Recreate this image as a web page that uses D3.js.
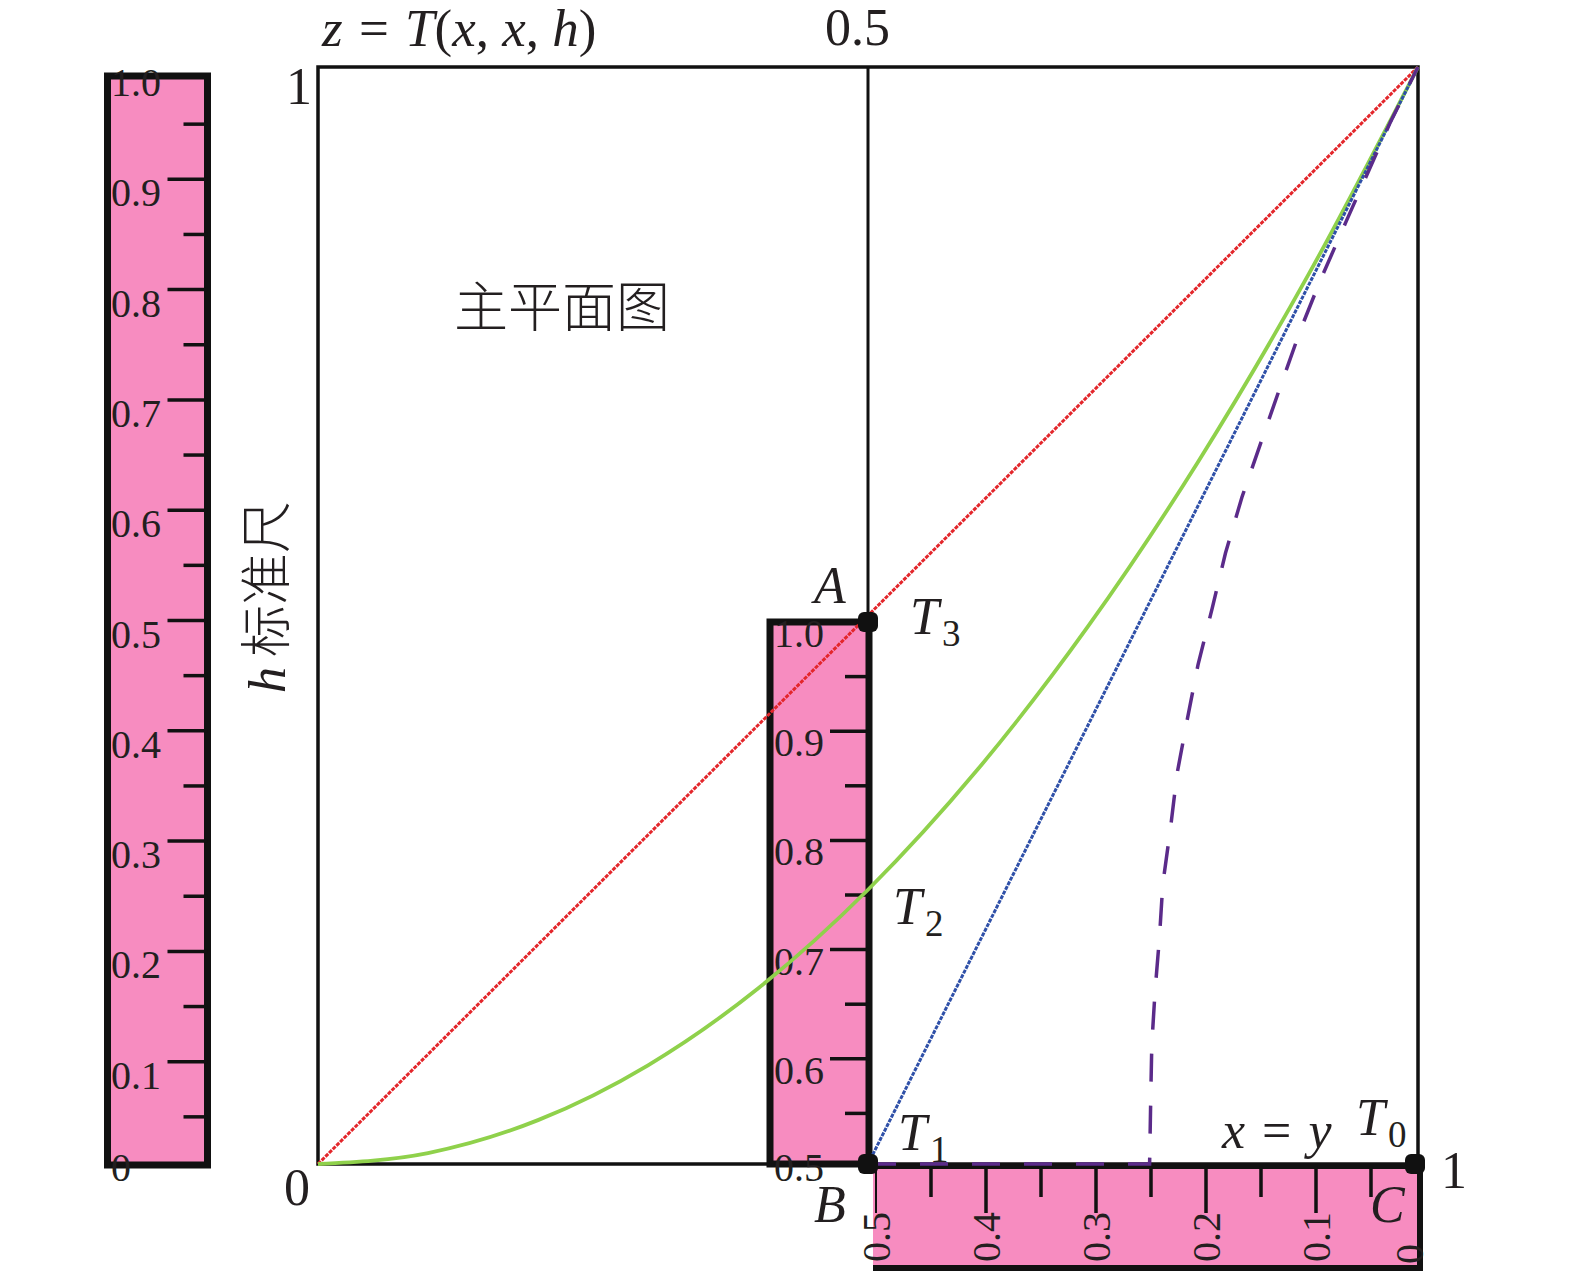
<!DOCTYPE html>
<html>
<head>
<meta charset="utf-8">
<script src="https://cdn.jsdelivr.net/npm/d3@7"></script>
<style>
  body { margin: 0; background: #fff; }
  text { fill: #231f20; }
</style>
</head>
<body>
<div id="chart"></div>
<script>
// curves z = T(x, x, h)
const redX = [0, 1];
const redY = [0, 1];
const greenX = [0, 0.1, 0.2, 0.3, 0.4, 0.5, 0.6, 0.7, 0.8, 0.9, 1];
const greenY = [0, 0.01, 0.04, 0.09, 0.16, 0.25, 0.36, 0.49, 0.64, 0.81, 1];
const blueX = [0.5, 1];
const blueY = [0, 1];
const purpleX = [0.5, 0.756, 0.757, 0.758, 0.761, 0.765, 0.768, 0.775, 0.781, 0.79, 0.8,
  0.813, 0.825, 0.84, 0.858, 0.875, 0.893, 0.911, 0.935, 0.955, 0.975, 1];
const purpleY = [0, 0, 0.058, 0.109, 0.158, 0.207, 0.255, 0.306, 0.356, 0.404, 0.455,
  0.507, 0.557, 0.608, 0.66, 0.709, 0.76, 0.805, 0.86, 0.905, 0.95, 1];

// ruler tick labels
const leftRulerValues = [0, 0.1, 0.2, 0.3, 0.4, 0.5, 0.6, 0.7, 0.8, 0.9, 1];
const leftRulerLabels = ["0", "0.1", "0.2", "0.3", "0.4", "0.5", "0.6", "0.7", "0.8", "0.9", "1.0"];
const midRulerValues = [0.5, 0.6, 0.7, 0.8, 0.9, 1];
const midRulerLabels = ["0.5", "0.6", "0.7", "0.8", "0.9", "1.0"];
const botRulerValues = [0.5, 0.4, 0.3, 0.2, 0.1, 0];
const botRulerLabels = ["0.5", "0.4", "0.3", "0.2", "0.1", "0"];

const w = 1575;
const h = 1274;
const pink = "#f78cc0";
const serif = "'Liberation Serif', 'Times New Roman', serif";
const cjk = "'Noto Sans CJK SC', sans-serif";

const x = d3.scaleLinear().domain([0, 1]).range([318, 1418]);
const y = d3.scaleLinear().domain([0, 1]).range([1164, 67]);
const hLeft = d3.scaleLinear().domain([0, 1]).range([1172, 69]);
const hMid = d3.scaleLinear().domain([0.5, 1]).range([1168, 622]);
const hBot = d3.scaleLinear().domain([0.5, 0]).range([876, 1426]);

const svg = d3.select("#chart").append("svg")
  .attr("width", w)
  .attr("height", h);

// main frame
svg.append("rect")
  .attr("x", x(0)).attr("y", y(1))
  .attr("width", x(1) - x(0)).attr("height", y(0) - y(1))
  .attr("fill", "none").attr("stroke", "#111").attr("stroke-width", 3.5);

// left h ruler
const leftX0 = 107.5, leftX1 = 207.5;
svg.append("rect")
  .attr("x", leftX0).attr("y", hLeft(1) + 7)
  .attr("width", leftX1 - leftX0).attr("height", hLeft(0) - hLeft(1) - 14)
  .attr("fill", pink).attr("stroke", "#111").attr("stroke-width", 7);

const minorTicks = d3.range(1, 20).map((i) => i / 20);
svg.append("g").selectAll("line")
  .data(minorTicks)
  .enter().append("line")
  .attr("x1", (d, i) => (i % 2 === 1 ? leftX1 - 40 : leftX1 - 24))
  .attr("x2", leftX1)
  .attr("y1", (d) => hLeft(d)).attr("y2", (d) => hLeft(d))
  .attr("stroke", "#111").attr("stroke-width", 3.5);

svg.append("g").selectAll("text")
  .data(leftRulerValues)
  .enter().append("text")
  .attr("x", 111)
  .attr("y", (d) => (d === 0 ? hLeft(d) + 9 : hLeft(d) + 27))
  .attr("font-family", serif).attr("font-size", 40)
  .text((d, i) => leftRulerLabels[i]);

// middle ruler (h from 0.5 to 1)
const midX0 = 770, midX1 = 869;
svg.append("rect")
  .attr("x", midX0).attr("y", hMid(1))
  .attr("width", midX1 - midX0).attr("height", y(0) - hMid(1))
  .attr("fill", pink).attr("stroke", "#111").attr("stroke-width", 7);

const midMinor = d3.range(1, 10).map((i) => 0.5 + i / 20);
svg.append("g").selectAll("line")
  .data(midMinor)
  .enter().append("line")
  .attr("x1", (d, i) => (i % 2 === 1 ? midX1 - 39 : midX1 - 24))
  .attr("x2", midX1)
  .attr("y1", (d) => hMid(d)).attr("y2", (d) => hMid(d))
  .attr("stroke", "#111").attr("stroke-width", 3.5);

svg.append("g").selectAll("text")
  .data(midRulerValues)
  .enter().append("text")
  .attr("x", 774)
  .attr("y", (d) => (d === 0.5 ? hMid(d) + 13 : hMid(d) + 25))
  .attr("font-family", serif).attr("font-size", 40)
  .text((d, i) => midRulerLabels[i]);

// bottom ruler (0.5 down to 0)
const botY0 = 1166, botY1 = 1268, botRight = 1420;
svg.append("rect")
  .attr("x", hBot(0.5) - 3).attr("y", botY0)
  .attr("width", botRight - hBot(0.5) + 3).attr("height", botY1 - botY0)
  .attr("fill", pink);
svg.append("line")
  .attr("x1", midX1).attr("x2", botRight + 3).attr("y1", botY0).attr("y2", botY0)
  .attr("stroke", "#111").attr("stroke-width", 6);
svg.append("line")
  .attr("x1", botRight).attr("x2", botRight).attr("y1", botY0).attr("y2", botY1 + 3)
  .attr("stroke", "#111").attr("stroke-width", 6);
svg.append("line")
  .attr("x1", hBot(0.5) - 3).attr("x2", botRight + 3).attr("y1", botY1).attr("y2", botY1)
  .attr("stroke", "#111").attr("stroke-width", 6);

const botTicks = d3.range(0, 10).map((i) => 0.5 - i / 20);
svg.append("g").selectAll("line")
  .data(botTicks)
  .enter().append("line")
  .attr("x1", (d) => hBot(d)).attr("x2", (d) => hBot(d))
  .attr("y1", botY0)
  .attr("y2", (d, i) => (i % 2 === 0 ? botY0 + 47 : botY0 + 31))
  .attr("stroke", "#111")
  .attr("stroke-width", (d, i) => (i === 0 ? 2 : 3.5));

svg.append("g").selectAll("text")
  .data(botRulerValues)
  .enter().append("text")
  .attr("transform", (d) => `translate(${Math.min(hBot(d) + 14, 1423)},${d === 0 ? 1264 : 1262}) rotate(-90)`)
  .attr("font-family", serif).attr("font-size", 40)
  .text((d, i) => botRulerLabels[i]);

// curves
const line = d3.line().x((d) => x(d[0])).y((d) => y(d[1]));
const smooth = d3.line().x((d) => x(d[0])).y((d) => y(d[1])).curve(d3.curveMonotoneX);

svg.append("path")
  .attr("d", line(redX.map((v, i) => [v, redY[i]])))
  .attr("fill", "none").attr("stroke", "#e3262b").attr("stroke-width", 3)
  .attr("stroke-dasharray", "4 1.2");

svg.append("path")
  .attr("d", smooth(greenX.map((v, i) => [v, greenY[i]])))
  .attr("fill", "none").attr("stroke", "#8fd14b").attr("stroke-width", 3.8);

svg.append("path")
  .attr("d", line(blueX.map((v, i) => [v, blueY[i]])))
  .attr("fill", "none").attr("stroke", "#2f50a8").attr("stroke-width", 3)
  .attr("stroke-dasharray", "4 1.2");

svg.append("path")
  .attr("d", line(purpleX.map((v, i) => [v, purpleY[i]])))
  .attr("fill", "none").attr("stroke", "#5b2b8a").attr("stroke-width", 3.5)
  .attr("stroke-dasharray", "28 24");

// x = 0.5 guide
svg.append("line")
  .attr("x1", x(0.5)).attr("x2", x(0.5))
  .attr("y1", y(1)).attr("y2", hMid(1))
  .attr("stroke", "#111").attr("stroke-width", 3);

// points T3, B (T1), C (T0)
const pts = [[x(0.5), hMid(1)], [x(0.5), y(0)], [x(1) - 3, y(0)]];
svg.append("g").selectAll("rect")
  .data(pts)
  .enter().append("rect")
  .attr("x", (d) => d[0] - 10).attr("y", (d) => d[1] - 10)
  .attr("width", 20).attr("height", 20)
  .attr("rx", 6).attr("fill", "#111");

// labels
function label(tx, ty, main, sub, italic) {
  const t = svg.append("text")
    .attr("x", tx).attr("y", ty)
    .attr("font-family", serif).attr("font-size", 52)
    .attr("font-style", italic ? "italic" : "normal");
  t.append("tspan").text(main);
  if (sub) {
    t.append("tspan").attr("font-style", "normal").attr("font-size", 37)
      .attr("dx", 3).attr("dy", 12).text(sub);
  }
}

label(814, 603, "A", null, true);
label(910, 634, "T", "3", true);
label(893, 924, "T", "2", true);
label(898, 1150, "T", "1", true);
label(814, 1222, "B", null, true);
label(1370, 1222, "C", null, true);
label(1356, 1135, "T", "0", true);
label(1441, 1188, "1", null, false);
label(284, 1205, "0", null, false);
label(286, 104, "1", null, false);
label(825, 45, "0.5", null, false);

const xy = svg.append("text")
  .attr("x", 1222).attr("y", 1148)
  .attr("font-family", serif).attr("font-size", 52);
xy.append("tspan").attr("font-style", "italic").text("x");
xy.append("tspan").attr("dx", 4).text(" = ");
xy.append("tspan").attr("dx", 4).attr("font-style", "italic").text("y");

const title = svg.append("text")
  .attr("x", 322).attr("y", 46)
  .attr("font-family", serif).attr("font-size", 53);
title.append("tspan").attr("font-style", "italic").text("z");
title.append("tspan").attr("dx", 3).text(" = ");
title.append("tspan").attr("dx", 3).attr("font-style", "italic").text("T");
title.append("tspan").text("(");
title.append("tspan").attr("font-style", "italic").text("x");
title.append("tspan").text(", ");
title.append("tspan").attr("font-style", "italic").text("x");
title.append("tspan").text(", ");
title.append("tspan").attr("font-style", "italic").text("h");
title.append("tspan").text(")");

svg.append("text")
  .attr("x", 454).attr("y", 327)
  .attr("font-family", cjk).attr("font-size", 54)
  .attr("font-weight", 300)
  .text("主平面图");

const hLabel = svg.append("text")
  .attr("transform", "translate(285,693) rotate(-90)")
  .attr("font-size", 52);
hLabel.append("tspan").attr("font-family", serif).attr("font-style", "italic").text("h");
hLabel.append("tspan").attr("font-family", cjk).attr("font-weight", 300).attr("dx", 10).text("标准尺");
</script>
</body>
</html>
